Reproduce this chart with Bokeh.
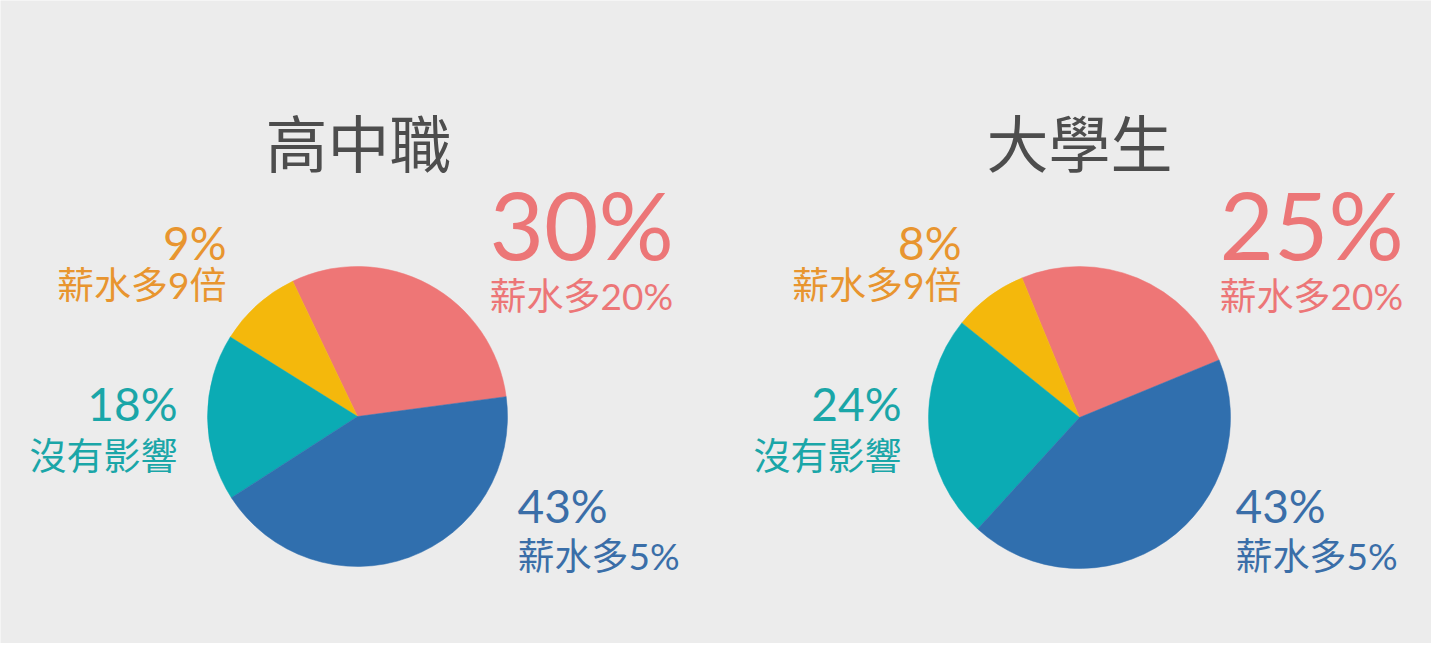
import math
from bokeh.plotting import figure
from bokeh.models import ColumnDataSource, Range1d
from bokeh.core.properties import value
from bokeh.embed import file_html
from bokeh.resources import INLINE

# data
groups = ["高中職", "大學生"]
labels = ["薪水多20%", "薪水多9倍", "沒有影響", "薪水多5%"]
highschool_pct = [30, 9, 18, 43]
university_pct = [25, 8, 24, 43]

slice_colors = ["#ee7676", "#f4b80c", "#0babb4", "#306fae"]
label_colors = ["#ec7677", "#e8952f", "#1aa6a8", "#3a6ea8"]

BG = "#ececec"
W, H = 1431, 643
CJK = "'Noto Sans CJK TC'"
NUM = "Lato, 'Noto Sans CJK TC'"


def X(x):
    return x


def Y(y):
    return H - y


p = figure(width=W, height=H, x_range=Range1d(0, W), y_range=Range1d(0, H),
           output_backend="svg", toolbar_location=None, min_border=0)
p.axis.visible = False
p.grid.visible = False
p.outline_line_color = None
p.background_fill_color = BG
p.border_fill_color = BG

# pie centres, radius, starting angle (deg) of the pink slice
pies = [
    dict(cx=357, cy=416, r=150, start=7.6, pct=highschool_pct,
         title_x=358,
         anchors=[(489, "left"), (226, "right"), (177, "right"), (517, "left")]),
    dict(cx=1079, cy=417, r=151, start=22.4, pct=university_pct,
         title_x=1079,
         anchors=[(1219, "left"), (961, "right"), (901, "right"), (1235, "left")]),
]
pct_mid_y = [223, 242, 403, 505]
lbl_mid_y = [295, 284, 455, 555]

for gi, pie in enumerate(pies):
    starts, ends = [], []
    a = math.radians(pie["start"])
    for v in pie["pct"]:
        starts.append(a)
        a += v / 100 * 2 * math.pi
        ends.append(a)
    src = ColumnDataSource(dict(
        x=[X(pie["cx"])] * 4, y=[Y(pie["cy"])] * 4,
        start=starts, end=ends, color=slice_colors,
    ))
    p.wedge(x="x", y="y", radius=pie["r"], start_angle="start", end_angle="end",
            fill_color="color", line_color="color", line_width=0.5, source=src)

    p.text(x=[X(pie["title_x"])], y=[Y(140)], text=[groups[gi]],
           text_font=value(CJK), text_font_size="62px", text_color="#4d4d4d",
           text_align="center", text_baseline="middle")

    for i in range(4):
        ax, align = pie["anchors"][i]
        big = i == 0
        p.text(x=[X(ax)], y=[Y(pct_mid_y[i])], text=[f"{pie['pct'][i]}%"],
               text_font=value(NUM), text_font_size="94px" if big else "46px",
               text_color=label_colors[i], text_align=align, text_baseline="middle")
        p.text(x=[X(ax)], y=[Y(lbl_mid_y[i])], text=[labels[i]],
               text_font=value(NUM), text_font_size="37px",
               text_color=label_colors[i], text_align=align, text_baseline="middle")

open("out.html", "w").write(file_html(p, INLINE))
